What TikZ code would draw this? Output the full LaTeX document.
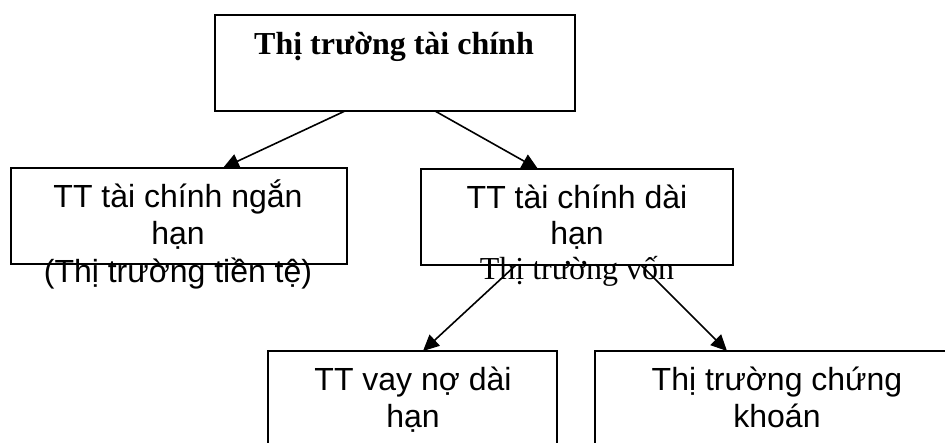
\documentclass[tikz,border=0pt]{standalone}
\usepackage{fontspec}
\setmainfont{Liberation Serif}
\newfontfamily\sansf{Liberation Sans}
\usetikzlibrary{arrows.meta}
\begin{document}
\begin{tikzpicture}[x=1pt,y=-1pt,
  box/.style={draw,line width=1.6pt,inner sep=0pt,outer sep=0pt,minimum height=96pt},
  sl/.style={anchor=base,inner sep=0pt,font=\sansf\fontsize{32}{37}\selectfont},
  rl/.style={anchor=base,inner sep=0pt,font=\fontsize{32}{37}\selectfont},
  arr/.style={line width=1.6pt,-{Triangle[length=16pt,width=15pt]}}]
\useasboundingbox (0,0) rectangle (945,443);
\node[box,minimum width=360pt] (top) at (395,63) {};
\node[box,minimum width=336pt] (left) at (179,216) {};
\node[box,minimum width=312pt] (mid) at (577,217) {};
\node[box,minimum width=289pt] (bl) at (412.5,399) {};
\node[box,minimum width=364pt] (br) at (777,399) {};
\node[rl,font=\bfseries\fontsize{32}{37}\selectfont] (t1) at (394,55) {Thị trường tài chính};
\node[sl] (l1) at (178,208) {TT tài chính ngắn};
\node[sl] (l2) at (178,245) {hạn};
\node[sl] (l3) at (178,283) {(Thị trường tiền tệ)};
\node[sl] (m1) at (577,209) {TT tài chính dài};
\node[sl] (m2) at (577,245) {hạn};
\node[rl] (m3) at (577,280) {Thị trường vốn};
\node[sl] (b1) at (413,391) {TT vay nợ dài};
\node[sl] (b2) at (413,427) {hạn};
\node[sl] (c1) at (777,391) {Thị trường chứng};
\node[sl] (c2) at (777,427) {khoán};
\draw[arr] ([xshift=-50pt]top.south) -- ([xshift=44pt]left.north);
\draw[arr] ([xshift=40pt]top.south) -- ([xshift=-39pt]mid.north);
\draw[arr] ([xshift=-61pt]mid.south) -- ([xshift=10.5pt]bl.north);
\draw[arr] ([xshift=64pt]mid.south) -- ([xshift=-50pt]br.north);
\end{tikzpicture}
\end{document}
